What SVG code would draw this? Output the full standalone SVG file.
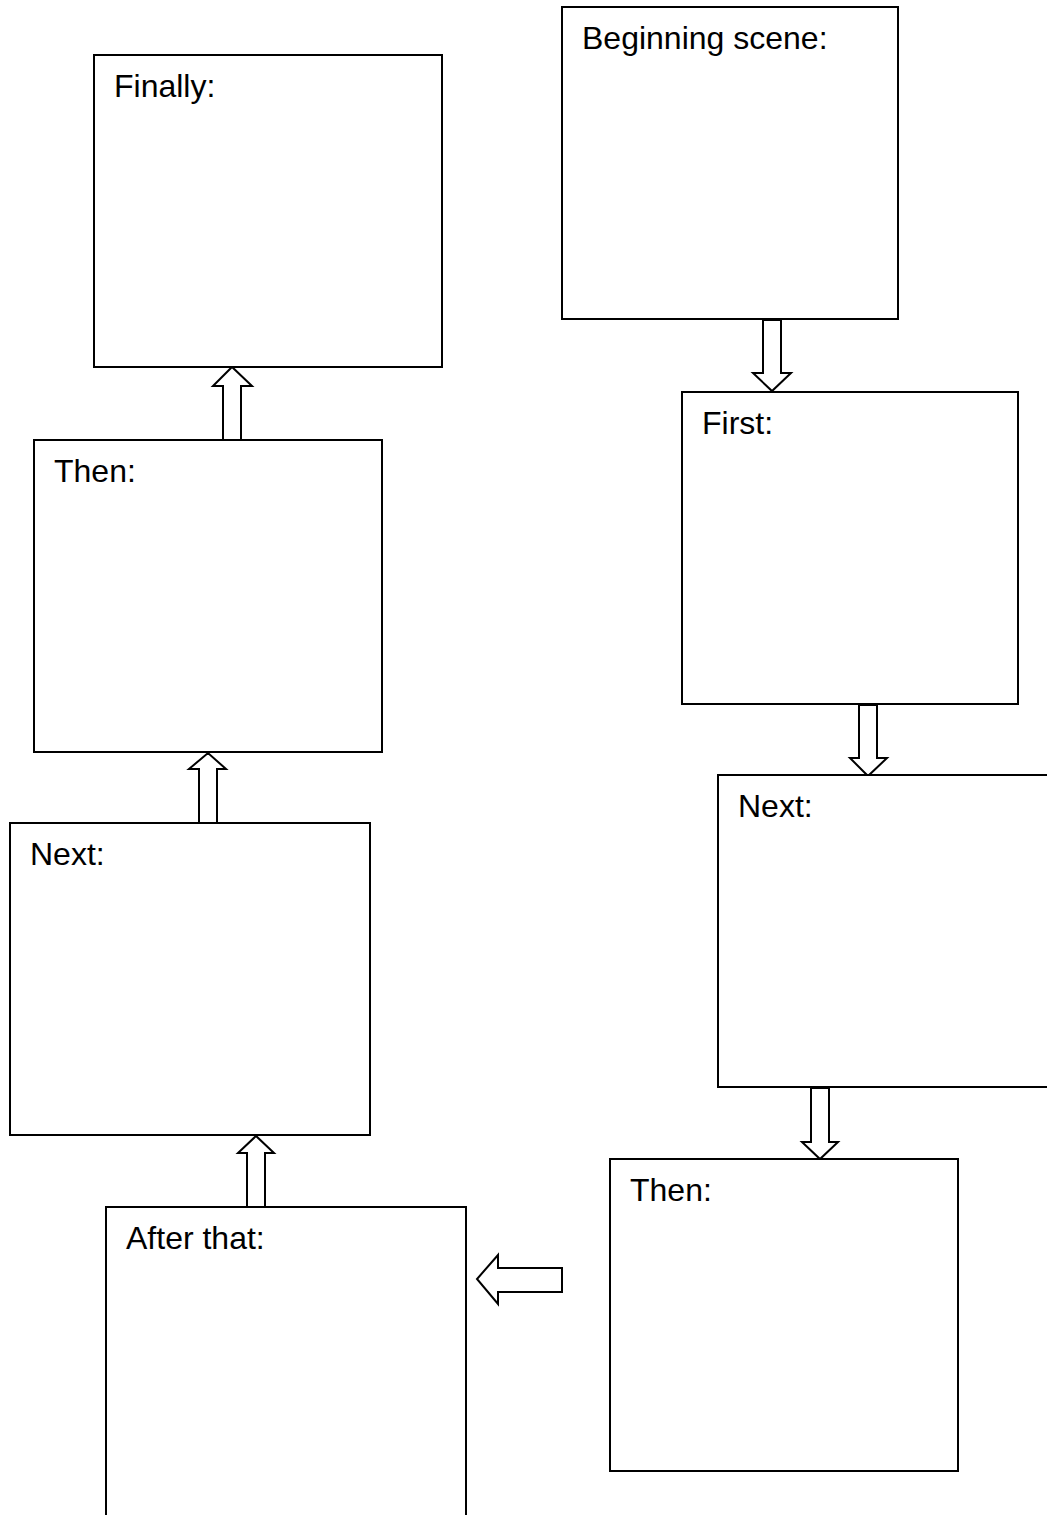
<svg xmlns="http://www.w3.org/2000/svg" width="1047" height="1515" viewBox="0 0 1047 1515">
<style>
.box{fill:#fff;stroke:#000;stroke-width:2}
.arr{fill:#fff;stroke:#000;stroke-width:2;stroke-linejoin:miter}
text{font-family:"Liberation Sans",Arial,sans-serif;font-size:32px;fill:#000}
</style>
<rect width="1047" height="1515" fill="#fff"/>
<g id="connectors">
<polygon class="arr" points="763,320 781,320 781,373 791,373 772,391 753,373 763,373"/>
<polygon class="arr" points="859,705 877,705 877,758 887,758 868,776 850,758 859,758"/>
<polygon class="arr" points="811,1088 829,1088 829,1142 838,1142 820,1159 802,1142 811,1142"/>
<polygon class="arr" points="562,1268 562,1292 498,1292 498,1304 477,1279 498,1255 498,1268"/>
<polygon class="arr" points="247,1207 265,1207 265,1153 274,1153 256,1136 238,1153 247,1153"/>
<polygon class="arr" points="199,823 217,823 217,769 226,769 208,753 189,769 199,769"/>
<polygon class="arr" points="223,440 241,440 241,386 252,386 232,367 213,386 223,386"/>
</g>
<g id="beginning"><rect class="box" x="562" y="7" width="336" height="312"/><text x="582" y="49">Beginning scene:</text></g>
<g id="first"><rect class="box" x="682" y="392" width="336" height="312"/><text x="702" y="434">First:</text></g>
<g id="next-right"><rect class="box" x="718" y="775" width="360" height="312"/><text x="738" y="817">Next:</text></g>
<g id="then-right"><rect class="box" x="610" y="1159" width="348" height="312"/><text x="630" y="1201">Then:</text></g>
<g id="after-that"><rect class="box" x="106" y="1207" width="360" height="340"/><text x="126" y="1249">After that:</text></g>
<g id="next-left"><rect class="box" x="10" y="823" width="360" height="312"/><text x="30" y="865">Next:</text></g>
<g id="then-left"><rect class="box" x="34" y="440" width="348" height="312"/><text x="54" y="482">Then:</text></g>
<g id="finally"><rect class="box" x="94" y="55" width="348" height="312"/><text x="114" y="97">Finally:</text></g>
</svg>
